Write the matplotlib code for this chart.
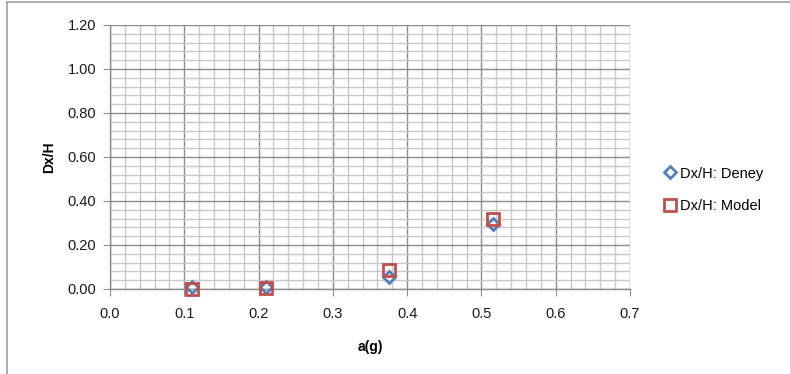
import matplotlib.pyplot as plt
from matplotlib.lines import Line2D
from matplotlib.ticker import MultipleLocator

plt.rcParams['font.family'] = ['Liberation Sans', 'DejaVu Sans']

# values
a_g = [0.11, 0.21, 0.375, 0.515]
dxh_deney = [0.01, 0.01, 0.055, 0.295]
dxh_model = [0.0, 0.005, 0.088, 0.316]

blue = '#4F81BD'
red = '#C0504D'

fig = plt.figure(figsize=(7.9, 3.74), dpi=100)
ax = fig.add_axes([110 / 790, 85 / 374, 520 / 790, 264 / 374])

ax.plot(a_g, dxh_deney, linestyle='none', marker='D', markersize=6.5,
        markerfacecolor='none', markeredgecolor=blue, markeredgewidth=2,
        label='Dx/H: Deney', clip_on=False, zorder=3)
ax.plot(a_g, dxh_model, linestyle='none', marker='s', markersize=9,
        markerfacecolor='none', markeredgecolor=red, markeredgewidth=2,
        label='Dx/H: Model', clip_on=False, zorder=4)

ax.set_xlim(0, 0.7)
ax.set_ylim(0, 1.2)
ax.xaxis.set_major_locator(MultipleLocator(0.1))
ax.xaxis.set_minor_locator(MultipleLocator(0.02))
ax.yaxis.set_major_locator(MultipleLocator(0.2))
ax.yaxis.set_minor_locator(MultipleLocator(0.04))
ax.xaxis.set_major_formatter(lambda v, p: f'{v:.1f}')
ax.yaxis.set_major_formatter(lambda v, p: f'{v:.2f}')

ax.grid(which='major', color='#8c8c8c', linewidth=1.0)
ax.grid(which='minor', color='#c8c8c8', linewidth=1.0)
ax.set_axisbelow(True)

for side in ['top', 'right']:
    ax.spines[side].set_visible(False)
for side in ['left', 'bottom']:
    ax.spines[side].set_color('#8c8c8c')
    ax.spines[side].set_linewidth(1.0)

ax.tick_params(which='major', length=5, color='#8c8c8c', labelsize=10.5,
               labelcolor='#1a1a1a')
ax.tick_params(axis='x', which='major', pad=8)
ax.tick_params(axis='y', which='major', pad=5)
ax.tick_params(which='minor', length=0)

ax.set_xlabel('a(g)', fontsize=10, fontweight='bold', labelpad=14)
ax.set_ylabel('Dx/H', fontsize=10, fontweight='bold', labelpad=8)

ax.legend(loc='center left', bbox_to_anchor=(1.068, 0.375), frameon=False,
          fontsize=10.5, handlelength=0.6, handletextpad=0.4, labelspacing=1.3,
          borderaxespad=0, borderpad=0)

# chart border (Excel chart area frame)
fig.add_artist(Line2D([7 / 790, 7 / 790], [0, 1 - 2 / 374], color='#a0a0a0',
                      linewidth=1.2, transform=fig.transFigure))
fig.add_artist(Line2D([7 / 790, 1], [1 - 2 / 374, 1 - 2 / 374], color='#a0a0a0',
                      linewidth=1.2, transform=fig.transFigure))

fig.savefig('out.png', dpi=100)
